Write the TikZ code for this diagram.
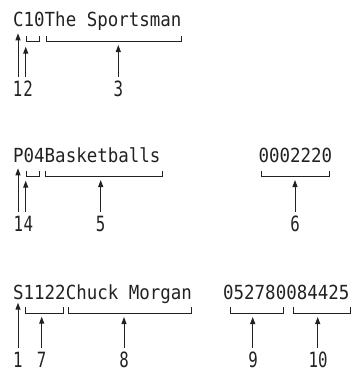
\documentclass[tikz,border=0pt]{standalone}
\usepackage{fontspec}
\usetikzlibrary{arrows.meta}
\newfontfamily\recfont[FakeStretch=0.9]{DejaVu Sans Mono}
\newfontfamily\lblfont[FakeStretch=0.75]{DejaVu Sans Mono}
\definecolor{ink}{HTML}{222222}
\tikzset{
  rec/.style={inner sep=0pt, anchor=base west, text=ink, font=\recfont\fontsize{19.4pt}{22pt}\selectfont},
  lbl/.style={inner sep=0pt, anchor=base, text=ink, font=\lblfont\fontsize{21pt}{24pt}\selectfont},
  brk/.style={draw=ink, line width=1pt},
  ptr/.style={draw=ink, line width=1pt, -{Triangle[length=7pt,width=5pt]}}
}
\begin{document}
\begin{tikzpicture}[x=1pt,y=-1pt]
\useasboundingbox (0,0) rectangle (356,378);
% ---------- Row 1 ----------
\node[rec] (t1) at (13,26.7) {C10The Sportsman};
\coordinate (b2a) at (26.7,36); \coordinate (b2b) at (39.3,36);
\draw[brk] (b2a) |- (39.3,41) -- (b2b);
\coordinate (b3a) at (46,36); \coordinate (b3b) at (181,36);
\draw[brk] (b3a) |- (181,41) -- (b3b);
\node[lbl] (l1) at (17.5,96.7) {1};
\node[lbl] (l2) at (28,96.7) {2};
\node[lbl] (l3) at (118.3,96.7) {3};
\coordinate (s1) at (18,76.7); \coordinate (e1) at (18,33.3);
\coordinate (s2) at (25.7,76.7); \coordinate (e2) at (25.7,46.7);
\coordinate (s3) at (118.3,76.7); \coordinate (e3) at (118.3,45);
\draw[ptr] (s1) -- (e1);
\draw[ptr] (s2) -- (e2);
\draw[ptr] (s3) -- (e3);
% ---------- Row 2 ----------
\node[rec] (t2) at (13,162.2) {P04Basketballs};
\node[rec] (t2b) at (258.3,162.2) {0002220};
\coordinate (b4a) at (26.7,171); \coordinate (b4b) at (39.3,171);
\draw[brk] (b4a) |- (39.3,176.5) -- (b4b);
\coordinate (b5a) at (45,171); \coordinate (b5b) at (162.3,171);
\draw[brk] (b5a) |- (162.3,176.5) -- (b5b);
\coordinate (b6a) at (261.7,171); \coordinate (b6b) at (329,171);
\draw[brk] (b6a) |- (329,176.5) -- (b6b);
\node[lbl] (l1b) at (18.3,231.7) {1};
\node[lbl] (l4) at (28.3,231.7) {4};
\node[lbl] (l5) at (100.7,231.7) {5};
\node[lbl] (l6) at (295,231.7) {6};
\coordinate (s1b) at (18,212); \coordinate (e1b) at (18,168.3);
\coordinate (s4) at (25.7,212); \coordinate (e4) at (25.7,180.7);
\coordinate (s5) at (100.7,212); \coordinate (e5) at (100.7,180);
\coordinate (s6) at (295,212); \coordinate (e6) at (295,180);
\draw[ptr] (s1b) -- (e1b);
\draw[ptr] (s4) -- (e4);
\draw[ptr] (s5) -- (e5);
\draw[ptr] (s6) -- (e6);
% ---------- Row 3 ----------
\node[rec] (t3) at (13,299.3) {S1122Chuck Morgan};
\node[rec] (t3b) at (223,299.3) {052780084425};
\coordinate (b7a) at (25.7,307); \coordinate (b7b) at (63.3,307);
\draw[brk] (b7a) |- (63.3,313) -- (b7b);
\coordinate (b8a) at (68.3,307); \coordinate (b8b) at (191.7,307);
\draw[brk] (b8a) |- (191.7,313) -- (b8b);
\coordinate (b9a) at (230.7,307); \coordinate (b9b) at (283.3,307);
\draw[brk] (b9a) |- (283.3,313) -- (b9b);
\coordinate (b10a) at (293.3,307); \coordinate (b10b) at (350.7,307);
\draw[brk] (b10a) |- (350.7,313) -- (b10b);
\node[lbl] (l1c) at (17.8,367.3) {1};
\node[lbl] (l7) at (41.5,367.3) {7};
\node[lbl] (l8) at (124,367.3) {8};
\node[lbl] (l9) at (253,367.3) {9};
\node[lbl] (l10) at (318,367.3) {10};
\coordinate (s1c) at (18,347.5); \coordinate (e1c) at (18,302.7);
\coordinate (s7) at (41.7,347.5); \coordinate (e7) at (41.7,316.7);
\coordinate (s8) at (124,347.5); \coordinate (e8) at (124,317);
\coordinate (s9) at (252.7,347.5); \coordinate (e9) at (252.7,317);
\coordinate (s10) at (317.7,347.5); \coordinate (e10) at (317.7,317);
\draw[ptr] (s1c) -- (e1c);
\draw[ptr] (s7) -- (e7);
\draw[ptr] (s8) -- (e8);
\draw[ptr] (s9) -- (e9);
\draw[ptr] (s10) -- (e10);
\end{tikzpicture}
\end{document}
